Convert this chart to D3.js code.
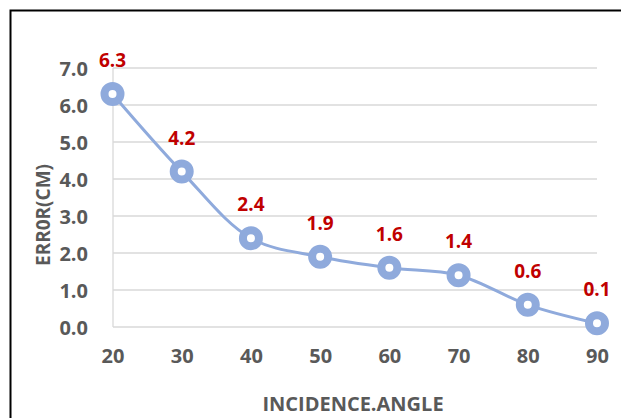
<!DOCTYPE html>
<html><head><meta charset="utf-8">
<script src="https://cdn.jsdelivr.net/npm/d3@7"></script>
<style>body{margin:0;background:#fff}svg{display:block}</style>
</head><body>
<script>
const angles = [20, 30, 40, 50, 60, 70, 80, 90];
const errors = [6.3, 4.2, 2.4, 1.9, 1.6, 1.4, 0.6, 0.1];
const yTicks = [0, 1, 2, 3, 4, 5, 6, 7];

const W = 621, H = 418;
const svg = d3.select("body").append("svg").attr("width", W).attr("height", H);
svg.append("rect").attr("x", 10.5).attr("y", 10.5).attr("width", W + 10).attr("height", H + 10)
  .attr("fill", "none").attr("stroke", "#000").attr("stroke-width", 2);

const x = d3.scaleLinear().domain([20, 90]).range([112.5, 597]);
const y = d3.scaleLinear().domain([0, 7]).range([327, 68]);
const font = "'Open Sans', sans-serif";

// gridlines
svg.append("g").selectAll("line").data(yTicks).join("line")
  .attr("x1", 113).attr("x2", 597).attr("y1", d => y(d)).attr("y2", d => y(d))
  .attr("stroke", "#d9d9d9").attr("stroke-width", 1.3);
svg.append("line").attr("x1", 113).attr("x2", 113).attr("y1", y(7)).attr("y2", y(0))
  .attr("stroke", "#d9d9d9").attr("stroke-width", 1.3);

// y axis labels
const yAxis = d3.axisLeft(y).tickValues(yTicks).tickFormat(d3.format(".1f")).tickSize(0).tickPadding(25);
const gy = svg.append("g").attr("transform", "translate(113,0)").call(yAxis);
gy.select(".domain").remove();
gy.selectAll("text").attr("font-family", font).attr("font-weight", "bold").attr("font-size", 20).attr("fill", "#595959")
  .attr("dy", "0.36em");

// x axis labels
const xAxis = d3.axisBottom(x).tickValues(angles).tickSize(0).tickPadding(22);
const gx = svg.append("g").attr("transform", "translate(0,327)").call(xAxis);
gx.select(".domain").remove();
gx.selectAll("text").attr("font-family", font).attr("font-weight", "bold").attr("font-size", 20).attr("fill", "#595959")
  .attr("dy", "0.72em");

// titles
svg.append("text").attr("x", 353).attr("y", 411).attr("text-anchor", "middle")
  .attr("font-family", font).attr("font-weight", "bold").attr("font-size", 20).attr("fill", "#595959")
  .text("INCIDENCE.ANGLE");
svg.append("text").attr("transform", "translate(50,215) rotate(-90)").attr("text-anchor", "middle")
  .attr("font-family", font).attr("font-weight", "bold").attr("font-size", 19).attr("fill", "#595959")
  .text("ERR0R(CM)");

const data = angles.map((a, i) => ({a, e: errors[i]}));
const line = d3.line().x(d => x(d.a)).y(d => y(d.e)).curve(d3.curveCatmullRom.alpha(0.5));
svg.append("path").datum(data).attr("d", line).attr("fill", "none")
  .attr("stroke", "#8faadc").attr("stroke-width", 3);

svg.append("g").selectAll("circle").data(data).join("circle")
  .attr("cx", d => x(d.a)).attr("cy", d => y(d.e)).attr("r", 8)
  .attr("fill", "#fff").attr("stroke", "#8faadc").attr("stroke-width", 8);

svg.append("g").selectAll("text").data(data).join("text")
  .attr("x", d => x(d.a)).attr("y", d => y(d.e) - 27).attr("text-anchor", "middle")
  .attr("font-family", font).attr("font-weight", "bold").attr("font-size", 19).attr("fill", "#c00000")
  .text(d => d.e.toFixed(1));
</script>
</body></html>
